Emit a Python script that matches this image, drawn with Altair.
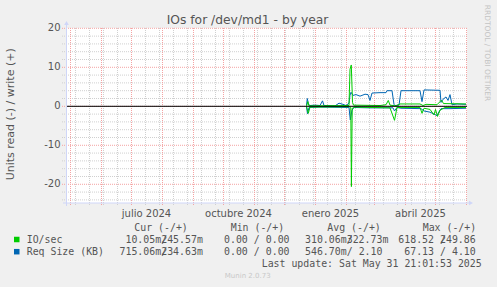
import altair as alt
import pandas as pd

# ---------------- data ----------------
# Req Size (KB) write (+)
rq_w_t = ["2024-12-23T00:00", "2024-12-23T19:00", "2024-12-25T00:00", "2024-12-26T12:00", "2024-12-31T12:00",
          "2025-01-05T12:00", "2025-01-08T00:00", "2025-01-09T12:00", "2025-01-20T12:00", "2025-01-24T12:00",
          "2025-01-28T12:00", "2025-01-31T12:00", "2025-02-03T12:00", "2025-02-04T12:00", "2025-02-05T12:00",
          "2025-02-07T12:00", "2025-02-10T12:00", "2025-02-14T12:00", "2025-02-19T12:00", "2025-02-22T12:00",
          "2025-02-24T12:00", "2025-02-26T12:00", "2025-03-06T12:00", "2025-03-12T12:00", "2025-03-13T12:00",
          "2025-03-18T12:00", "2025-03-20T12:00", "2025-03-21T12:00", "2025-03-25T12:00", "2025-03-27T12:00",
          "2025-04-15T12:00", "2025-04-17T12:00", "2025-04-19T12:00", "2025-05-05T12:00", "2025-05-06T12:00",
          "2025-05-08T12:00", "2025-05-11T12:00", "2025-05-13T12:00", "2025-05-15T12:00", "2025-05-17T12:00",
          "2025-05-22T12:00", "2025-05-31T12:00"]
rq_w_v = [0.3, 2.0, 0.5, 0.2, 0.3,
          0.2, 1.4, 0.2, 0.1, 0.8,
          0.5, 0.2, 0.8, 2.8, 3.6,
          2.8, 3.0, 2.6, 3.1, 3.0,
          1.5, 3.4, 3.5, 3.5, 4.0,
          4.0, 0.5, 0.2, 0.3, 4.0,
          4.0, 1.2, 4.2, 4.1, 1.0,
          1.8, 2.4, 1.5, 3.0, 0.4,
          0.6, 0.5]

# Req Size (KB) read (-)
rq_r_t = ["2024-12-23T00:00", "2024-12-24T00:00", "2024-12-25T12:00", "2025-01-05T12:00", "2025-02-03T12:00",
          "2025-02-04T19:00", "2025-02-06T12:00", "2025-02-08T12:00", "2025-02-24T12:00", "2025-03-12T12:00",
          "2025-03-19T12:00", "2025-03-21T00:00", "2025-03-23T12:00", "2025-03-27T12:00", "2025-04-16T12:00",
          "2025-04-19T12:00", "2025-04-25T12:00", "2025-04-29T12:00", "2025-05-02T12:00", "2025-05-04T12:00",
          "2025-05-06T12:00", "2025-05-15T12:00", "2025-05-31T12:00"]
rq_r_v = [-0.2, -1.9, -0.3, -0.2, -0.3,
          -3.5, -1.0, -0.3, -0.4, -0.4,
          -0.4, -1.2, -0.3, -0.5, -0.6,
          -1.2, -1.5, -2.0, -2.4, -1.4,
          -0.6, -0.6, -0.5]

# IO/sec write (+)
io_w_t = ["2024-12-23T00:00", "2024-12-24T07:00", "2024-12-25T12:00", "2025-02-03T12:00", "2025-02-04T12:00",
          "2025-02-05T19:00", "2025-02-07T00:00", "2025-02-08T00:00", "2025-03-06T12:00", "2025-03-12T12:00",
          "2025-03-14T19:00", "2025-03-16T12:00", "2025-03-22T12:00", "2025-03-26T12:00", "2025-04-15T12:00",
          "2025-04-18T12:00", "2025-04-21T12:00", "2025-05-02T12:00", "2025-05-07T00:00", "2025-05-09T00:00",
          "2025-05-31T12:00"]
io_w_v = [0.0, 1.2, 0.1, 0.2, 9.5,
          10.6, 1.0, 0.3, 0.2, 0.4,
          1.5, 0.3, 0.1, 0.6, 0.6,
          0.2, 0.5, 0.4, 1.6, 0.7,
          0.6]

# IO/sec read (-)
io_r_t = ["2024-12-23T00:00", "2024-12-24T19:00", "2024-12-26T12:00", "2025-02-03T12:00", "2025-02-05T07:00",
          "2025-02-05T21:30", "2025-02-06T17:00", "2025-02-09T12:00", "2025-03-16T12:00", "2025-03-21T00:00",
          "2025-03-23T12:00", "2025-04-15T12:00", "2025-04-17T12:00", "2025-04-19T12:00", "2025-04-25T12:00",
          "2025-04-29T12:00", "2025-05-01T00:00", "2025-05-03T00:00", "2025-05-05T12:00", "2025-05-10T12:00",
          "2025-05-31T12:00"]
io_r_v = [0.0, -1.8, -0.2, -0.1, -0.3,
          -20.6, -0.5, -0.2, -0.4, -3.6,
          -0.3, -0.3, -1.8, -0.5, -0.8,
          -2.2, -0.8, -2.6, -1.0, -0.3,
          -0.3]

zero_line = [0]
y_minor = [v for v in range(-24, 21, 2) if v % 10 != 0]
y_major = [-20, -10, 0, 10, 20]
y_labels = ["-20", "-10", "0", "10", "20"]
month_starts = pd.date_range("2024-05-01", "2025-06-01", freq="MS")
biweekly = pd.date_range("2024-05-06", "2025-05-31", freq="14D")
x_label_dates = ["2024-07-16", "2024-10-16", "2025-01-16", "2025-04-16"]
x_labels = ["julio 2024", "octubre 2024", "enero 2025", "abril 2025"]

title = "IOs for /dev/md1 - by year"
y_title = "Units read (-) / write (+)"
legend_headers = ["Cur (-/+)", "Min (-/+)", "Avg (-/+)", "Max (-/+)"]
io_name = "IO/sec"
rq_name = "Req Size (KB)"
io_stats = [("10.05m", "245.57m"), ("0.00", "0.00"), ("310.06m", "322.73m"), ("618.52", "249.86")]
rq_stats = [("715.06m", "234.63m"), ("0.00", "0.00"), ("546.70m", "2.10"), ("67.13", "4.10")]
last_update = "Last update: Sat May 31 21:01:53 2025"
version = "Munin 2.0.73"
watermark = "RRDTOOL / TOBI OETIKER"

# ---------------- layout ----------------
L, T = 67, 28
W, H = 400, 175
GREEN = "#00CC00"
BLUE = "#0066B3"
FONT_C = "#555555"
AXIS_C = "#CFD6F8"
GRID_C = "#d0d0d0"
MGRID_C = "#f4a3a3"
SANS = "DejaVu Sans"
MONO = "DejaVu Sans Mono"
CW = 5.96  # mono char width

xs = alt.Scale(domain=[alt.DateTime(year=2024, month=4, date=27, hours=12),
                       alt.DateTime(year=2025, month=6, date=1, hours=12)])
ys = alt.Scale(domain=[-24.8, 20.08], nice=False, zero=False)

one = alt.Data(values=[{"a": 1}])


def text(s, x, y, size=10, color=FONT_C, font=SANS, align="left", baseline="middle", angle=0):
    return alt.Chart(one).mark_text(
        text=s, font=font, fontSize=size, color=color, align=align, baseline=baseline, angle=angle
    ).encode(x=alt.value(x - L), y=alt.value(y - T))


def series(ts, vs, part):
    return pd.DataFrame({"t": pd.to_datetime(ts), "v": vs, "part": part})


layers = []

# grid lines
hmin = alt.Chart(pd.DataFrame({"y": y_minor})).mark_rule(color=GRID_C, strokeDash=[1, 1], strokeWidth=1).encode(
    y=alt.Y("y:Q", scale=ys, axis=None), x=alt.value(-5), x2=alt.value(W))
vmin = alt.Chart(pd.DataFrame({"t": biweekly})).mark_rule(color=GRID_C, strokeDash=[1, 1], strokeWidth=1).encode(
    x=alt.X("t:T", scale=xs, axis=None), y=alt.value(0), y2=alt.value(H + 3))
hmaj = alt.Chart(pd.DataFrame({"y": y_major})).mark_rule(color=MGRID_C, strokeDash=[1, 1], strokeWidth=1).encode(
    y=alt.Y("y:Q", scale=ys, axis=None), x=alt.value(-5), x2=alt.value(W))
vmaj = alt.Chart(pd.DataFrame({"t": month_starts})).mark_rule(color=MGRID_C, strokeDash=[1, 1], strokeWidth=1).encode(
    x=alt.X("t:T", scale=xs, axis=None), y=alt.value(0), y2=alt.value(H + 3))
layers += [hmin, vmin, hmaj, vmaj]

# axes
yaxis = alt.Chart(one).mark_rule(color=AXIS_C, strokeWidth=1).encode(
    x=alt.value(-0.5), y=alt.value(-5), y2=alt.value(H + 3))
xaxis = alt.Chart(one).mark_rule(color=AXIS_C, strokeWidth=1).encode(
    y=alt.value(H), x=alt.value(-4), x2=alt.value(W + 3))
yarrow = alt.Chart(one).mark_point(shape="triangle-up", filled=True, color=AXIS_C, size=22, opacity=1).encode(
    x=alt.value(-0.5), y=alt.value(-5))
xarrow = alt.Chart(one).mark_point(shape="triangle-right", filled=True, color=AXIS_C, size=22, opacity=1).encode(
    x=alt.value(W + 4), y=alt.value(H))
layers += [yaxis, xaxis, yarrow, xarrow]

# data lines
rq = pd.concat([series(rq_w_t, rq_w_v, "write"), series(rq_r_t, rq_r_v, "read")])
io = pd.concat([series(io_w_t, io_w_v, "write"), series(io_r_t, io_r_v, "read")])
rq_line = alt.Chart(rq).mark_line(color=BLUE, strokeWidth=1).encode(
    x=alt.X("t:T", scale=xs, axis=None), y=alt.Y("v:Q", scale=ys, axis=None), detail="part:N")
io_line = alt.Chart(io).mark_line(color=GREEN, strokeWidth=1).encode(
    x=alt.X("t:T", scale=xs, axis=None), y=alt.Y("v:Q", scale=ys, axis=None), detail="part:N")
zero = alt.Chart(pd.DataFrame({"y": zero_line})).mark_rule(color="#000000", strokeWidth=1).encode(
    y=alt.Y("y:Q", scale=ys, axis=None), x=alt.value(0), x2=alt.value(W))
layers += [rq_line, io_line, zero]

# tick labels
ylab = alt.Chart(pd.DataFrame({"v": y_major, "lab": y_labels})).mark_text(
    font=SANS, fontSize=10, color=FONT_C, align="right", baseline="middle").encode(
    y=alt.Y("v:Q", scale=ys, axis=None), x=alt.value(-6.5), text="lab:N")
xlab = alt.Chart(pd.DataFrame({"t": pd.to_datetime(x_label_dates), "lab": x_labels})).mark_text(
    font=SANS, fontSize=10, color=FONT_C, align="center", baseline="alphabetic").encode(
    x=alt.X("t:T", scale=xs, axis=None), y=alt.value(216.5 - T), text="lab:N")
layers += [ylab, xlab]

# titles
layers.append(text(title, 247.5, 24, size=12.3, align="center", baseline="alphabetic"))
layers.append(text(y_title, 11, 114.3, size=11, align="center", angle=270))
layers.append(text(watermark, 487, 53, size=7.5, color="#c4c4c4", align="center", angle=90))

# legend
header_x = [134.3, 230.7, 327.3, 422.7]
for h, hx in zip(legend_headers, header_x):
    layers.append(text(h, hx, 228, size=9.9, font=MONO))

col_x = [119.5, 212.1, 305.0, 398.3]


def fmt(s):
    if s.endswith("m"):
        return s[:-1].rjust(6) + "m"
    return s.rjust(6) + " "


def place(s, x0, y):
    n = len(s) - len(s.lstrip(" "))
    return text(s.strip(" "), x0 + n * CW, y, size=9.9, font=MONO)


for row_y, name, stats, col in [(239.5, io_name, io_stats, GREEN), (251.7, rq_name, rq_stats, BLUE)]:
    layers.append(alt.Chart(one).mark_rect(color=col).encode(
        x=alt.value(14 - L), x2=alt.value(19.5 - L), y=alt.value(row_y - 2.75 - T), y2=alt.value(row_y + 2.75 - T)))
    layers.append(text(name, 26.7, row_y, size=9.9, font=MONO))
    for (a, b), cx in zip(stats, col_x):
        layers.append(place(fmt(a), cx, row_y))
        layers.append(place("/", cx + 7 * CW, row_y))
        layers.append(place(fmt(b), cx + 7 * CW, row_y))

layers.append(text(last_update, 261.7, 263.7, size=9.9, font=MONO))
layers.append(text(version, 247.7, 276, size=7, color="#c8c8c8", align="center"))

chart = alt.layer(*layers).properties(
    width=W, height=H,
    autosize=alt.AutoSizeParams(type="none"),
    padding={"left": L, "top": T, "right": 497 - L - W, "bottom": 287 - T - H},
    background="#f0f0f0",
).configure_view(fill="#ffffff", stroke=None)

chart.save("out.html", embed_options={"renderer": "svg", "actions": False})
